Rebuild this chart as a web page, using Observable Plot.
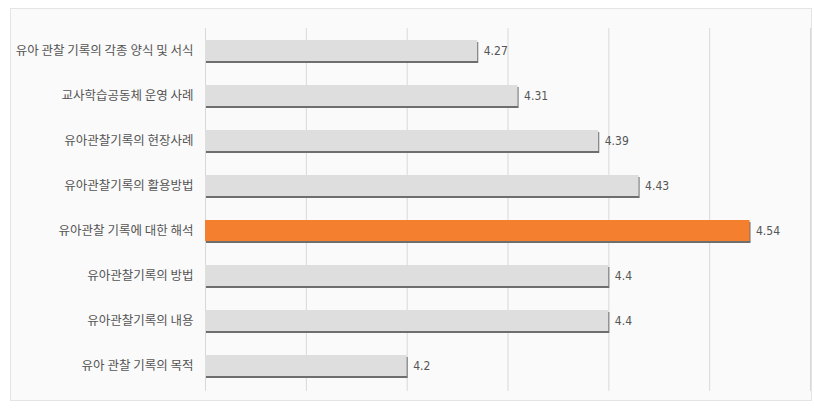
<!DOCTYPE html>
<html>
<head>
<meta charset="utf-8">
<script src="https://cdn.jsdelivr.net/npm/d3@7"></script>
<script src="https://cdn.jsdelivr.net/npm/@observablehq/plot@0.6"></script>
<style>
  html, body { margin: 0; padding: 0; background: #ffffff; }
  #wrap { position: relative; width: 814px; height: 408px; overflow: hidden; }
  #frame { position: absolute; left: 10px; top: 8px; width: 800px; height: 391px;
           border: 1px solid #e4e4e4; background: #fafafa; }
  #chart { position: absolute; left: 0; top: 0; }
  #chart svg { background: transparent; }
  .vlabel text { font-stretch: condensed; }
</style>
</head>
<body>
<div id="wrap"><div id="frame"></div><div id="chart"></div></div>
<script>
const categories = [
  "유아 관찰 기록의 각종 양식 및 서식",
  "교사학습공동체 운영 사례",
  "유아관찰기록의 현장사례",
  "유아관찰기록의 활용방법",
  "유아관찰 기록에 대한 해석",
  "유아관찰기록의 방법",
  "유아관찰기록의 내용",
  "유아 관찰 기록의 목적"
];
const values = [4.27, 4.31, 4.39, 4.43, 4.54, 4.4, 4.4, 4.2];
const valueLabels = ["4.27", "4.31", "4.39", "4.43", "4.54", "4.4", "4.4", "4.2"];
const highlight = "유아관찰 기록에 대한 해석";
const xTicks = [4.0, 4.1, 4.2, 4.3, 4.4, 4.5, 4.6];

const data = categories.map((c, i) => ({ cat: c, value: values[i], label: valueLabels[i] }));

const chart = Plot.plot({
  width: 814,
  height: 408,
  marginLeft: 205,
  marginRight: 4,
  marginTop: 28,
  marginBottom: 20,
  style: { fontFamily: "'Noto Sans CJK KR', 'Noto Sans', sans-serif", background: "transparent" },
  x: { domain: [4.0, 4.6], axis: null },
  y: { domain: categories, paddingInner: 0.54, paddingOuter: 0.27, label: null },
  marks: [
    Plot.ruleX(xTicks, { stroke: "#d8d8d8", strokeWidth: 1, insetBottom: -3 }),
    Plot.barX(data, { y: "cat", x1: 4.0, x2: "value", fill: "#6e6e6e", dy: 2, dx: 1 }),
    Plot.barX(data, { y: "cat", x1: 4.0, x2: "value",
      fill: d => d.cat === highlight ? "#f47f2e" : "#dedede" }),
    Plot.text(data, { y: "cat", x: "value", text: "label", dx: 6, textAnchor: "start",
      fill: "#555", fontSize: 12, className: "vlabel",
      fontFamily: "'DejaVu Sans Condensed', 'DejaVu Sans', 'Liberation Sans Narrow', sans-serif" }),
    Plot.axisY({ tickSize: 0, tickPadding: 12, fontSize: 12.5, color: "#555", label: null })
  ]
});
document.getElementById("chart").appendChild(chart);
</script>
</body>
</html>
